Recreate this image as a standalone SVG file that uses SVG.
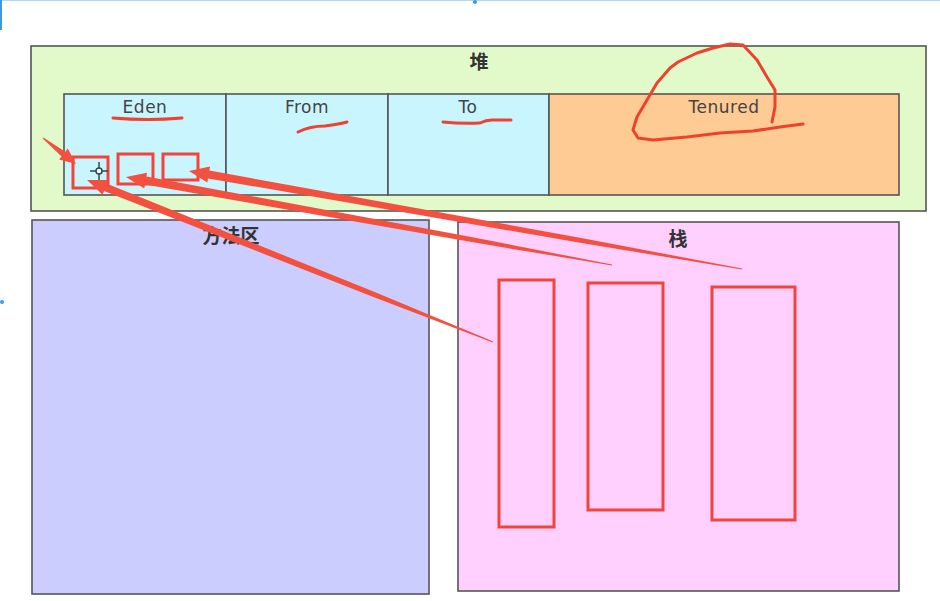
<svg xmlns="http://www.w3.org/2000/svg" width="940" height="601" viewBox="0 0 940 601">
<style>
.box{stroke:#555;stroke-width:1.6}
.lbl{font-family:"DejaVu Sans","Noto Sans",sans-serif;font-size:17px;fill:#444;text-anchor:middle;letter-spacing:0.5px}
.cn{font-family:"Noto Sans CJK SC","DejaVu Sans",sans-serif;font-size:19px;font-weight:bold;fill:#333;text-anchor:middle}
.red{fill:none;stroke:#f2443a;stroke-width:3}
.pen{fill:none;stroke:#f0402e;stroke-width:3;stroke-linecap:round;stroke-linejoin:round}
.arr{fill:#f4503f}
</style>
<rect width="940" height="601" fill="#fff"/>
<line x1="0" y1="0.5" x2="940" y2="0.5" stroke="#a8dcf2" stroke-width="1"/>
<line x1="1" y1="0" x2="1" y2="30" stroke="#3a9be0" stroke-width="2"/>
<circle cx="475" cy="2" r="2" fill="#3a9be0"/>
<circle cx="2" cy="302" r="2" fill="#3a9be0"/>

<g id="heap">
<rect class="box" x="31" y="46" width="895" height="165" fill="#e2f9c9"/>
<text class="cn" x="479" y="69">堆</text>
</g>
<g id="eden">
<rect class="box" x="64" y="94" width="162" height="101" fill="#c9f6fe"/>
<text class="lbl" x="145" y="113">Eden</text>
</g>
<g id="from">
<rect class="box" x="226" y="94" width="162" height="101" fill="#c9f6fe"/>
<text class="lbl" x="307" y="113">From</text>
</g>
<g id="to">
<rect class="box" x="388" y="94" width="161" height="101" fill="#c9f6fe"/>
<text class="lbl" x="468" y="113">To</text>
</g>
<g id="tenured">
<rect class="box" x="549" y="94" width="350" height="101" fill="#fecb94"/>
<text class="lbl" x="724" y="113">Tenured</text>
</g>
<g id="method-area">
<rect class="box" x="32" y="220" width="397" height="374" fill="#cacdfd"/>
<text class="cn" x="231" y="243">方法区</text>
</g>
<g id="stack">
<rect class="box" x="458" y="222" width="441" height="369" fill="#ffd0fe"/>
<text class="cn" x="678" y="246">栈</text>
</g>

<g id="objects">
<rect class="red" x="73" y="157" width="35" height="31"/>
<rect class="red" x="118" y="154" width="35" height="30"/>
<rect class="red" x="163" y="154" width="35" height="26"/>
</g>
<g id="frames">
<rect class="red" x="499" y="280" width="55" height="247"/>
<rect class="red" x="588" y="283" width="75" height="227"/>
<rect class="red" x="712" y="287" width="83" height="233"/>
</g>

<g id="annotations">
<path class="pen" d="M113,118 Q148,121 182,118"/>
<path class="pen" d="M298,132 Q310,126 325,126 Q340,124 347,122"/>
<path class="pen" d="M443,122 Q462,124 480,123 Q486,120 492,120 L511,120"/>
<path class="pen" d="M772,122 L775,107 L775,90 L767,77 L757,60 L743,45 L730,44 L713,48 L697,53 L678,62 L670,68 L657,83 L647,100 L637,117 L633,130 L638,138 L653,140 L687,137 L720,133 L753,131 L780,127 L803,124"/>
</g>

<g id="connectors">
<polygon class="arr" points="87,180 108.5,180 107.1,183.7 377.1,293.1 493.2,341.6 492.8,342.4 375.3,297.7 104.1,191.1 102.6,194.8"/>
<polygon class="arr" points="126,177 147.1,172.7 146.4,176.6 472.6,237.2 612.1,264.6 611.9,265.4 471.7,242.1 145,184.5 144.3,188.4"/>
<polygon class="arr" points="189,171 210.1,166.6 209.4,170.6 582.5,238.2 742.1,268.6 741.9,269.4 581.6,243.1 208,178.4 207.3,182.4"/>
<polygon class="arr" points="76,164 67.8,148.6 65.3,151.7 43.3,137.6 42.7,138.4 61.6,156.5 59.1,159.6"/>
</g>

<g id="cursor" stroke="#2d4660" stroke-width="1.5" fill="none">
<line x1="99" y1="162" x2="99" y2="180"/>
<line x1="90" y1="171" x2="108" y2="171"/>
<circle cx="99" cy="171" r="3" fill="#fff"/>
</g>
</svg>
